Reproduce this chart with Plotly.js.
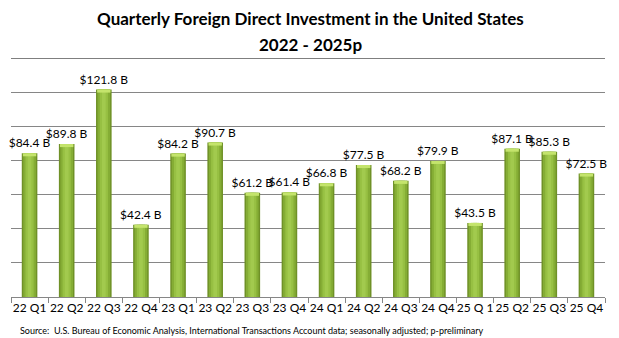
<!DOCTYPE html>
<html><head><meta charset="utf-8">
<script src="https://cdn.plot.ly/plotly-3.0.1.min.js"></script>
<style>html,body{margin:0;padding:0;background:#fff}#chart{width:619px;height:338px}</style>
</head><body><div id="chart"></div>
<script>
const quarters = ["22 Q1","22 Q2","22 Q3","22 Q4","23 Q1","23 Q2","23 Q3","23 Q4","24 Q1","24 Q2","24 Q3","24 Q4","25 Q 1","25 Q2","25 Q3","25 Q4"];
const fdiBillions = [84.4,89.8,121.8,42.4,84.2,90.7,61.2,61.4,66.8,77.5,68.2,79.9,43.5,87.1,85.3,72.5];
const labels = fdiBillions.map(v => "$" + v.toFixed(1) + " B");
const gridValues = [20,40,60,80,100,120,140];
const titleLines = ["Quarterly Foreign Direct Investment in the United States", "2022 - 2025p"];
const sourceNote = "Source:  U.S. Bureau of Economic Analysis, International Transactions Account data; seasonally adjusted; p-preliminary";

const font = "Lato, 'Open Sans', sans-serif";
const capH = 1.8;
const traces = [
  {type:"bar", x:quarters, y:fdiBillions, width:0.42, marker:{color:"#6F9127", line:{width:0}},
   text:labels, textposition:"outside", textfont:{family:font,size:12,color:"#000"},
   constraintext:"none", cliponaxis:false, hoverinfo:"skip"},
  {type:"bar", x:quarters, y:fdiBillions, width:0.34, marker:{color:"#85AD35", line:{width:0}}, hoverinfo:"skip"},
  {type:"bar", x:quarters, y:fdiBillions, width:0.22, marker:{color:"#97C043", line:{width:0}}, hoverinfo:"skip"},
  {type:"bar", x:quarters, y:fdiBillions, width:0.1, marker:{color:"#A2CA4E", line:{width:0}}, hoverinfo:"skip"},
  {type:"bar", x:quarters, y:fdiBillions.map(()=>capH), base:fdiBillions.map(v=>v-capH), width:0.36,
   marker:{color:"#C4E46C", line:{width:0}}, hoverinfo:"skip"}
];
const layout = {
  width:619, height:338,
  margin:{l:11, r:14, t:50, b:41},
  paper_bgcolor:"#fff", plot_bgcolor:"#fff",
  barmode:"overlay", showlegend:false,
  xaxis:{type:"category", tickson:"boundaries", ticks:"outside", ticklen:5, tickcolor:"#868686",
         showline:true, linecolor:"#868686", linewidth:1, showgrid:false, tickangle:0,
         tickfont:{family:font,size:12,color:"#000"}, fixedrange:true},
  yaxis:{range:[0,145], tickvals:gridValues, showticklabels:false, showgrid:true, gridcolor:"#868686", gridwidth:1,
         zeroline:false, showline:false, fixedrange:true},
  shapes:[{type:"line", xref:"paper", yref:"y", x0:0, x1:1, y0:140, y1:140, layer:"above", line:{color:"#7F7F7F", width:1.2}}],
  annotations:[
    {text:"<b>"+titleLines[0]+"</b>", xref:"paper", yref:"paper", x:0.505, y:1, yshift:32, xanchor:"center", yanchor:"middle",
     showarrow:false, font:{family:font,size:17,color:"#000"}},
    {text:"<b>"+titleLines[1]+"</b>", xref:"paper", yref:"paper", x:0.505, y:1, yshift:6, xanchor:"center", yanchor:"middle",
     showarrow:false, font:{family:font,size:17,color:"#000"}},
    {text:sourceNote,
    xref:"paper", yref:"paper", x:0, xshift:7, y:0, yshift:-33, xanchor:"left", yanchor:"middle",
    showarrow:false, font:{family:font,size:9,color:"#000"}}]
};
Plotly.newPlot("chart", traces, layout, {displayModeBar:false, staticPlot:true});
</script></body></html>
